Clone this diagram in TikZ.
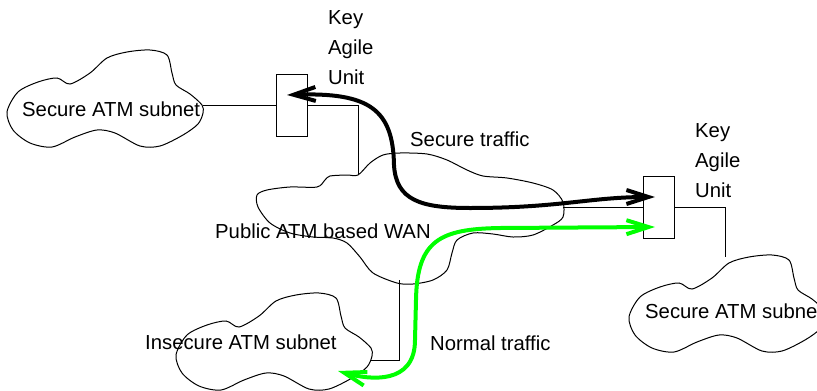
\documentclass[tikz,border=0pt]{standalone}
\usepackage{fontspec}
\setmainfont{Liberation Sans}
\usetikzlibrary{arrows.meta}

\begin{document}
\begin{tikzpicture}[x=1pt, y=-1pt,
    kau/.style={rectangle, draw, line width=1pt, minimum width=31pt, minimum height=62pt, inner sep=0pt},
    txt/.style={inner sep=0pt, anchor=base west, font=\fontsize{20.3pt}{30pt}\selectfont},
    line/.style={draw, line width=1pt},
    traffic/.style={draw, line width=4pt, {Straight Barb[length=22pt,width=14pt]}-{Straight Barb[length=22pt,width=14pt]}},
    subnet/.pic={\draw[line width=1pt] plot[smooth cycle] coordinates {(7,112) (18,92) (38,82) (57,78) (70,84) (90,73) (107,58) (127,52) (150,50) (167,55) (172,73) (176,85) (190,94) (202,105) (203,113) (198,124) (183,135) (160,146) (140,146) (115,133) (97,130) (75,137) (52,147) (30,143) (13,130)};}]

    \clip (0,0) rectangle (817,391);

    % clouds
    \pic at (0,0) {subnet};
    \pic at (169,243) {subnet};
    \pic at (622,205) {subnet};
    \draw[line width=1pt] plot[smooth cycle] coordinates {(358,175) (370,163) (383,155) (400,153) (427,154) (447,160) (467,170) (483,176) (507,178) (533,183) (553,190) (563,202) (563,217) (553,225) (533,235) (513,237) (493,234) (473,233) (457,240) (452,253) (447,270) (433,280) (413,284) (397,283) (373,273) (360,257) (347,243) (333,238) (313,237) (290,233) (270,223) (258,207) (257,195) (267,190) (290,187) (317,187) (325,180) (330,176) (347,175)};

    \coordinate (lsubE) at (203,105);
    \coordinate (wanN) at (358,175);
    \coordinate (wanE) at (563,207);
    \coordinate (wanS) at (399,280);
    \coordinate (rsubN) at (725,257);
    \coordinate (insE) at (370,360);

    \node [kau] (kau1) at (291.5,105) {};
    \node [kau] (kau2) at (658.5,207) {};

    \path [line] (lsubE) -- (kau1.west);
    \path [line] (kau1.east) -| (wanN);
    \path [line] (wanE) -- (kau2.west);
    \path [line] (kau2.east) -| (rsubN);
    \path [line] (wanS) |- (insE);

    \node [txt] (lsub) at (22,116) {Secure ATM subnet};
    \node [txt] (rsub) at (645,318) {Secure ATM subnet};
    \node [txt] (ins) at (145,349) {Insecure ATM subnet};
    \node [txt] (wan) at (215,238) {Public ATM based WAN};
    \node [txt, align=left] (kau1lbl) at (328,84.5) {Key\\Agile\\Unit};
    \node [txt, align=left] (kau2lbl) at (695,197) {Key\\Agile\\Unit};
    \node [txt] (sec) at (410,146) {Secure traffic};
    \node [txt] (nrm) at (430,350) {Normal traffic};

    % traffic paths
    \coordinate (sec1) at (287,95);
    \coordinate (sec2) at (655,197);
    \coordinate (nrm1) at (338,371);
    \coordinate (nrm2) at (655,227);
    \path [traffic] (sec1) .. controls (370,92) and (393,110) .. (394,165) .. controls (396,200) and (420,208) .. (470,208) .. controls (560,208) and (590,197) .. (sec2);
    \path [traffic, green] (nrm1) .. controls (370,380) and (415,385) .. (415,340) -- (416,300) .. controls (417,240) and (440,229) .. (500,228) -- (nrm2);
\end{tikzpicture}
\end{document}
